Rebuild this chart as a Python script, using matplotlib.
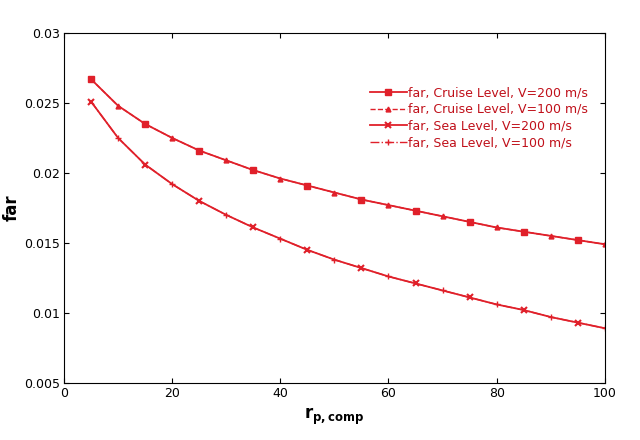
import matplotlib
matplotlib.use("Agg")
import matplotlib.pyplot as plt
import numpy as np

# pressure ratio grid, step 5
r_comp = [5, 10, 15, 20, 25, 30, 35, 40, 45, 50, 55, 60, 65, 70, 75, 80, 85, 90, 95, 100]
far_cruise = [0.0267, 0.0248, 0.0235, 0.0225, 0.0216, 0.0209, 0.0202, 0.0196, 0.0191, 0.0186,
              0.0181, 0.0177, 0.0173, 0.0169, 0.0165, 0.0161, 0.0158, 0.0155, 0.0152, 0.0149]
far_sea = [0.0251, 0.0225, 0.0206, 0.0192, 0.0180, 0.0170, 0.0161, 0.0153, 0.0145, 0.0138,
           0.0132, 0.0126, 0.0121, 0.0116, 0.0111, 0.0106, 0.0102, 0.0097, 0.0093, 0.0089]
labels = ["far, Cruise Level, V=200 m/s", "far, Cruise Level, V=100 m/s",
          "far, Sea Level, V=200 m/s", "far, Sea Level, V=100 m/s"]

red = "#e0202a"
x = np.array(r_comp)
fig, ax = plt.subplots(figsize=(6.4, 4.4), dpi=100)
fig.subplots_adjust(left=0.1, right=0.945, top=0.925, bottom=0.13)

ax.plot(x, far_cruise, "-", color=red, lw=1.3, marker="s", ms=4, markevery=slice(0, None, 2), label=labels[0])
ax.plot(x, far_cruise, "--", color=red, lw=1.0, marker="^", ms=3.5, markevery=slice(1, None, 2), label=labels[1])
ax.plot(x, far_sea, "-", color=red, lw=1.3, marker="x", ms=5, mew=1.5, markevery=slice(0, None, 2), label=labels[2])
ax.plot(x, far_sea, "-.", color=red, lw=1.0, marker="+", ms=5, markevery=slice(1, None, 2), label=labels[3])

ax.set_xlim(0, 100)
ax.set_ylim(0.005, 0.03)
ax.set_xticks(range(0, 101, 20))
ax.set_yticks(np.arange(0.005, 0.0301, 0.005))
ax.set_yticklabels(["0.005", "0.01", "0.015", "0.02", "0.025", "0.03"])
ax.tick_params(direction="in", top=True, right=True, labelsize=9, pad=3)
ax.set_xlabel(r"r$_{\mathregular{p,comp}}$", fontsize=12, fontweight="bold")
ax.set_ylabel("far", fontsize=12, fontweight="bold", labelpad=2)
leg = ax.legend(loc="upper right", bbox_to_anchor=(0.99, 0.88), frameon=False, fontsize=9,
                handlelength=3, labelspacing=0.3, handletextpad=0.1)
for t in leg.get_texts():
    t.set_color("#c0101a")

fig.savefig("out.png", dpi=100)
